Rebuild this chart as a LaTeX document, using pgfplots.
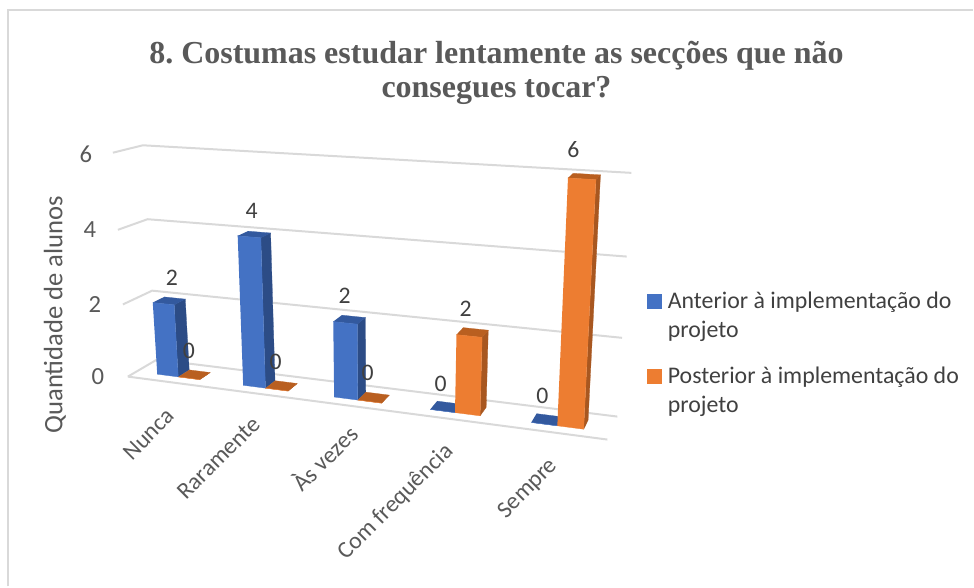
\documentclass[border=0pt]{standalone}
\usepackage{pgfplots}
\pgfplotsset{compat=1.18}
\usepackage{fontspec}
\setmainfont{Carlito}
\newfontfamily\titlefont{Liberation Serif}
\definecolor{gridc}{HTML}{D9D9D9}
\definecolor{txt}{HTML}{595959}
\definecolor{lab}{HTML}{404040}
\definecolor{bf}{HTML}{4472C4}
\definecolor{bs}{HTML}{2C4C86}
\definecolor{bt}{HTML}{33599E}
\definecolor{of}{HTML}{ED7D31}
\definecolor{os}{HTML}{A85720}
\definecolor{ot}{HTML}{B95F20}
\pgfplotsset{
  /pgf/declare function={
    UU(\t)=\t*(0.867+0.133*\t);
    bx(\u,\v)=157+461*\u+(-2.33+4.67*\u)*\v;
    by(\u,\v)=360+57*\u-(33.9+4.9*\u)*\v-0.31*\v*\v;
    fx(\u,\v)=128+480*\u+(-2.5+4.8*\u)*\v;
    fy(\u,\v)=377+63*\u-(35.5+5.1*\u)*\v-0.31*\v*\v;
    px(\t,\d,\v)=\d*bx(UU(\t),\v)+(1-\d)*fx(UU(\t),\v);
    py(\t,\d,\v)=\d*by(UU(\t),\v)+(1-\d)*fy(UU(\t),\v);
  },
  /pgfplots/table/proj/.style={row sep=\\,
    x expr={px(\thisrow{t},\thisrow{d},\thisrow{v})},
    y expr={py(\thisrow{t},\thisrow{d},\thisrow{v})}},
}
% t = position along the category axis, d = depth, v = value
\newcommand{\gridl}[1]{\addplot[gridc,line width=1.5pt,line join=round,forget plot] table[proj] {t d v\\ 0 0 #1\\ 0 1 #1\\ 1 1 #1\\};}
\newcommand{\face}[2]{\addplot[fill=#1,draw=#1,line width=0.2pt,forget plot] table[proj] {t d v\\ #2};}
\newcommand{\barr}[6]{%
  \face{#5}{#2 0.3 0\\ #2 0.7 0\\ #2 0.7 #3\\ #2 0.3 #3\\}
  \face{#6}{#1 0.3 #3\\ #2 0.3 #3\\ #2 0.7 #3\\ #1 0.7 #3\\}
  \face{#4}{#1 0.3 0\\ #2 0.3 0\\ #2 0.3 #3\\ #1 0.3 #3\\}
}
\begin{document}
\begin{tikzpicture}
\begin{axis}[
  scale only axis, width=730.5pt, height=440.25pt,
  xmin=0, xmax=974, ymin=0, ymax=587, y dir=reverse,
  hide axis, clip=false,
  legend style={at={(axis cs:648,289)},anchor=north west,draw=none,fill=none,
    font=\fontsize{17.9pt}{22pt}\selectfont,text=lab,
    cells={align=left,anchor=west},row sep=16.6pt,inner sep=0pt},
  legend cell align=left,
]
\path (axis cs:0,0) rectangle (axis cs:974,587);
% frame
\draw[gridc,line width=1.5pt] (axis cs:8,587) -- (axis cs:8,10.5) -- (axis cs:974,10.5);
% walls and floor
\gridl{6}
\gridl{4}
\gridl{2}
\gridl{0}
\addplot[gridc,line width=1.5pt,forget plot] table[proj] {t d v\\ 0 0 0\\ 1 0 0\\};
% bars: t0 t1 value colours
\barr{0.05}{0.10}{2}{bf}{bs}{bt}
\barr{0.10}{0.15}{0}{of}{os}{ot}
\barr{0.25}{0.30}{4}{bf}{bs}{bt}
\barr{0.30}{0.35}{0}{of}{os}{ot}
\barr{0.45}{0.50}{2}{bf}{bs}{bt}
\barr{0.50}{0.55}{0}{of}{os}{ot}
\barr{0.65}{0.70}{0}{bf}{bs}{bt}
\barr{0.70}{0.75}{2}{of}{os}{ot}
\barr{0.85}{0.90}{0}{bf}{bs}{bt}
\barr{0.90}{0.95}{6}{of}{os}{ot}
% legend
\addlegendimage{legend image code/.code={\fill[bf,overlay] (0pt,5.4pt) rectangle (10.5pt,15.9pt);\path[draw=none,fill=none] (0pt,0pt) rectangle (13.2pt,0.1pt);}}
\addlegendentry{Anterior à implementação do\\projeto}
\addlegendimage{legend image code/.code={\fill[of,overlay] (0pt,5.4pt) rectangle (10.5pt,15.9pt);\path[draw=none,fill=none] (0pt,0pt) rectangle (13.2pt,0.1pt);}}
\addlegendentry{Posterior à implementação do\\projeto}
% title
\node[font=\titlefont\bfseries\fontsize{24pt}{25.5pt}\selectfont,text=txt,align=center] at (axis cs:497,72.5)
  {\frenchspacing 8. Costumas estudar lentamente as secções que não\\consegues tocar?};
% y axis
\foreach \yy/\xx/\ll in {154/97/6,230/101/4,305/106/2,377/109/0}{
  \edef\tmp{\noexpand\node[font=\noexpand\fontsize{18.5pt}{20pt}\noexpand\selectfont,text=txt,anchor=east] at (axis cs:\xx,\yy) {\ll};}\tmp
}
\node[font=\fontsize{20pt}{20pt}\selectfont,text=txt,rotate=90] at (axis cs:55,315) {Quantidade de alunos};
% categories
\foreach \xx/\yy/\ll in {165/407/Nunca,251/415/Raramente,346/422/Às vezes,443/441/Com frequência,548/456/Sempre}{
  \edef\tmp{\noexpand\node[font=\noexpand\fontsize{17.8pt}{20pt}\noexpand\selectfont,text=txt,rotate=45,anchor=north east,inner sep=0pt] at (axis cs:\xx,\yy) {\ll};}\tmp
}
% data labels
\foreach \xx/\yy/\ll in {172/278/2,189/351/0,252/211/4,276/362/0,345/296/2,368/373/0,441/384/0,466/309/2,543/396/0,574/150/6}{
  \edef\tmp{\noexpand\node[font=\noexpand\fontsize{17.8pt}{20pt}\noexpand\selectfont,text=lab] at (axis cs:\xx,\yy) {\ll};}\tmp
}
\end{axis}
\end{tikzpicture}
\end{document}
